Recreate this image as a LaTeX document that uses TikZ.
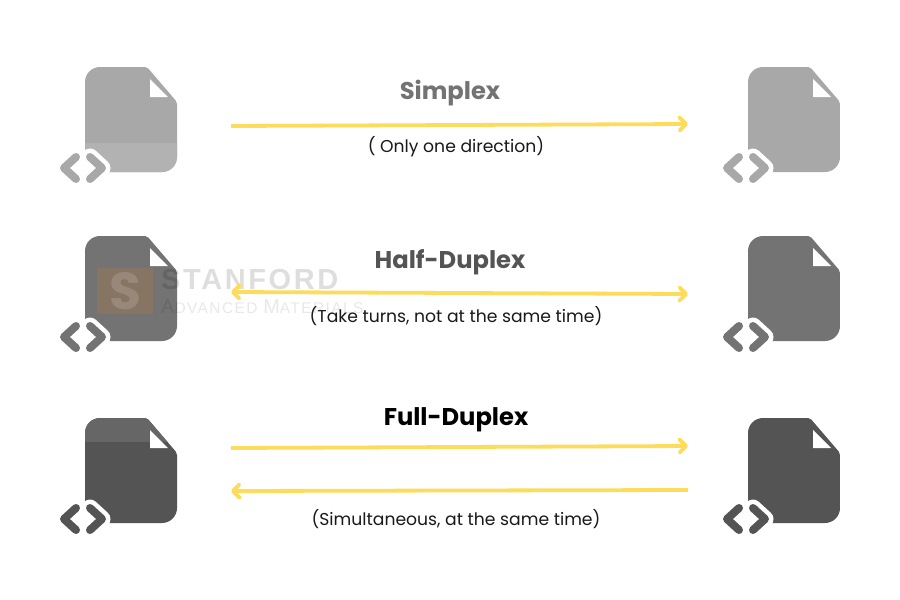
\documentclass[tikz,border=0pt]{standalone}
\usepackage{fontspec}
\setmainfont{Poppins}
\newfontfamily\markfont[LetterSpace=9]{Liberation Sans}
\usetikzlibrary{arrows.meta}
\definecolor{pathyellow}{HTML}{FDDC5C}
\tikzset{
    title/.style={font=\bfseries\fontsize{24.2}{25}\selectfont},
    note/.style={font=\fontsize{17.2}{18}\selectfont, text=black!90},
    barb/.tip={Straight Barb[length=6.5pt, width=13pt, round]},
    link/.style={pathyellow, line width=3.8pt, -barb},
    chevron/.style={line width=8pt, line cap=round, line join=round},
}
%文件图标: #1,#2 左上角, #3 主色, #4 色带颜色, #5,#6 色带上下边
\newcommand{\fileicon}[6]{
    \begin{scope}[shift={(#1, #2)}]
        \begin{scope}
            \clip[rounded corners=15pt] (0, 50) -- (0, 0) [rounded corners=2pt] -- (62, 0) -- (92, 35) [rounded corners=15pt] -- (92, 105) -- (0, 105) -- cycle;
            \fill[#3] (-1, -1) rectangle (93, 106);
            \fill[#4] (-1, #5) rectangle (93, #6);
        \end{scope}
        \fill[white] (65, 12) -- (65, 30) -- (83, 30) -- cycle;
        \draw[white, line width=17pt, line cap=round, line join=round] (5, 90) -- (17, 101) -- (5, 112);
        \draw[chevron, #3] (-9, 90) -- (-21, 101) -- (-9, 112);
        \draw[chevron, #3] (5, 90) -- (17, 101) -- (5, 112);
    \end{scope}
}
\begin{document}
\begin{tikzpicture}[x=1pt, y=-1pt]
    \useasboundingbox (0, 0) rectangle (900, 600);
    \fill[white] (0, 0) rectangle (900, 600);

    \fileicon{85}{67}{black!34}{black!30}{76}{106}
    \fileicon{748}{67}{black!34}{black!34}{0}{0}
    \fileicon{85}{236}{black!55}{black!55}{0}{0}
    \fileicon{748}{236}{black!55}{black!55}{0}{0}
    \fileicon{85}{418}{black!67}{black!60}{-1}{24}
    \fileicon{748}{418}{black!67}{black!67}{0}{0}

    %水印
    \fill[orange!70!brown, opacity=.16] (97, 268) rectangle (153, 314);
    \node[opacity=.14, text=white, font=\bfseries\fontsize{52}{52}\selectfont] (markS) at (125, 291) {S};
    \node[anchor=west, inner sep=0pt, opacity=.13, font=\markfont\bfseries\fontsize{29}{29}\selectfont] (markName) at (161, 280) {STANFORD};
    \node[anchor=west, inner sep=0pt, opacity=.09, font=\markfont\fontsize{20}{20}\selectfont] (markSub) at (161, 307) {A\fontsize{15.5}{16}\selectfont DVANCED \fontsize{20}{20}\selectfont M\fontsize{15.5}{16}\selectfont ATERIALS};

    \node[title, text=black!55] (simplex) at (450, 93) {Simplex};
    \node[note] (simplexNote) at (456, 147) {( Only one direction)};
    \node[title, text=black!67] (half) at (450, 262) {Half-Duplex};
    \node[note] (halfNote) at (456, 316) {(Take turns, not at the same time)};
    \node[title, text=black] (full) at (456, 420) {Full-Duplex};
    \node[note] (fullNote) at (456, 519) {(Simultaneous, at the same time)};

    \coordinate (simplexA) at (231, 126);
    \coordinate (simplexB) at (688, 124);
    \coordinate (halfA) at (231, 292);
    \coordinate (halfB) at (688, 294);
    \coordinate (fullA) at (231, 448);
    \coordinate (fullB) at (688, 446);
    \coordinate (backA) at (688, 490);
    \coordinate (backB) at (231, 491);

    \draw[link] (simplexA) -- (simplexB);
    \draw[link, barb-barb] (halfA) -- (halfB);
    \draw[link] (fullA) -- (fullB);
    \draw[link] (backA) -- (backB);
\end{tikzpicture}
\end{document}
